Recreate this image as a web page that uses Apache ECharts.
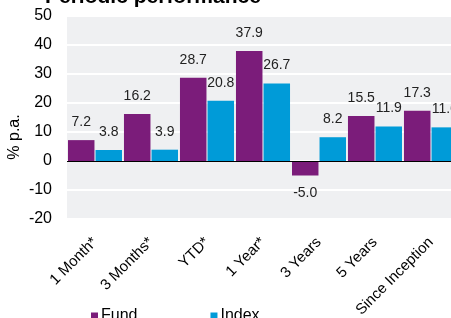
<!DOCTYPE html>
<html>
<head>
<meta charset="utf-8">
<script src="https://cdn.jsdelivr.net/npm/echarts@6/dist/echarts.min.js"></script>
<style>
html,body{margin:0;padding:0;background:#fff;}
#chart{width:451px;height:318px;}
</style>
</head>
<body>
<div id="chart"></div>
<script>
var categories = ['1 Month*', '3 Months*', 'YTD*', '1 Year*', '3 Years', '5 Years', 'Since Inception'];
var fundValues = [7.2, 16.2, 28.7, 37.9, -5.0, 15.5, 17.3];
var indexValues = [3.8, 3.9, 20.8, 26.7, 8.2, 11.9, 11.6];
var yTicks = [-20, -10, 0, 10, 20, 30, 40, 50];

var FONT = '"Liberation Sans", Arial, Helvetica, sans-serif';

function toData(vals) {
  return vals.map(function (v) {
    return {
      value: v,
      label: { position: v < 0 ? 'bottom' : 'top' }
    };
  });
}

var chart = echarts.init(document.getElementById('chart'), null, { renderer: 'canvas' });
chart.setOption({
  animation: false,
  backgroundColor: '#ffffff',
  title: {
    text: 'Periodic performance',
    left: 45,
    top: -13,
    padding: 0,
    textStyle: { fontFamily: FONT, fontSize: 21, fontWeight: 'bold', color: '#000' }
  },
  legend: {
    left: 91,
    top: 308,
    padding: 0,
    itemWidth: 7,
    itemHeight: 7,
    itemGap: 73,
    icon: 'rect',
    textStyle: { fontFamily: FONT, fontSize: 16, color: '#000', padding: [0, 0, 0, -2] },
    data: ['Fund', 'Index']
  },
  grid: {
    left: 67,
    right: -8,
    top: 16,
    bottom: 99,
    show: true,
    backgroundColor: '#eff0f2',
    borderWidth: 0,
    outerBoundsMode: 'none',
    containLabel: false
  },
  xAxis: {
    type: 'category',
    data: categories,
    axisLine: { show: false, onZero: false },
    axisTick: { show: false },
    axisLabel: {
      rotate: 45,
      margin: 21,
      interval: 0,
      fontFamily: FONT,
      fontSize: 15,
      color: '#000'
    }
  },
  yAxis: {
    type: 'value',
    min: yTicks[0],
    max: yTicks[yTicks.length - 1],
    interval: 10,
    axisLine: { show: false },
    axisTick: { show: false },
    splitLine: { show: true, lineStyle: { color: '#ffffff', width: 2 } },
    axisLabel: {
      margin: 15,
      fontFamily: FONT,
      fontSize: 16,
      color: '#000'
    }
  },
  graphic: [{
    type: 'text',
    x: 15,
    y: 137,
    rotation: Math.PI / 2,
    style: {
      text: '% p.a.',
      fontFamily: FONT,
      fontSize: 16,
      fill: '#000',
      align: 'center',
      verticalAlign: 'middle'
    }
  }],
  series: [{
    name: 'Fund',
    type: 'bar',
    data: toData(fundValues),
    barWidth: 26.5,
    barGap: '4%',
    itemStyle: { color: '#7b1c7a' },
    label: {
      show: true,
      distance: 11,
      fontFamily: FONT,
      fontSize: 14,
      color: '#222',
      formatter: function (p) { return p.value.toFixed(1); }
    },
    markLine: {
      silent: true,
      symbol: 'none',
      label: { show: false },
      lineStyle: { color: '#000', width: 1, type: 'solid' },
      data: [{ yAxis: 0 }]
    },
    z: 3
  }, {
    name: 'Index',
    type: 'bar',
    data: toData(indexValues),
    barWidth: 26.5,
    itemStyle: { color: '#009bd8' },
    label: {
      show: true,
      distance: 11,
      fontFamily: FONT,
      fontSize: 14,
      color: '#222',
      formatter: function (p) { return p.value.toFixed(1); }
    },
    z: 3
  }]
});
</script>
</body>
</html>
